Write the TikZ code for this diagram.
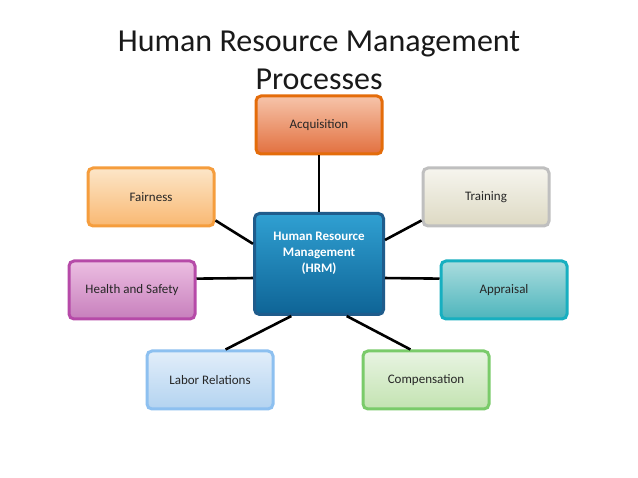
\documentclass[tikz,border=0pt]{standalone}
\usepackage{fontspec}
\setmainfont{Carlito}
\begin{document}
\begin{tikzpicture}[x=1pt,y=-1pt,
  box/.style={rounded corners=5pt,line width=3pt,minimum width=126pt,minimum height=58pt,font=\fontsize{13}{15}\selectfont,text=black!85,align=center},
  conn/.style={line width=2.6pt,black}]
\useasboundingbox (0,0) rectangle (638,478);
\fill[white] (0,0) rectangle (638,478);
\node[font=\fontsize{32}{38}\selectfont,align=center,text=black!90] (title) at (319,60) {Human Resource Management\\Processes};
\node[box,draw={rgb,255:red,228;green,108;blue,10},top color={rgb,255:red,246;green,196;blue,170},bottom color={rgb,255:red,226;green,112;blue,63}] (acq) at (319,125) {Acquisition};
\node[box,draw={rgb,255:red,191;green,191;blue,191},top color={rgb,255:red,246;green,245;blue,238},bottom color={rgb,255:red,221;green,217;blue,195}] (tra) at (486,197) {Training};
\node[box,draw={rgb,255:red,245;green,157;blue,61},top color={rgb,255:red,252;green,230;blue,200},bottom color={rgb,255:red,249;green,184;blue,114}] (fai) at (151,197) {Fairness};
\node[box,draw={rgb,255:red,31;green,92;blue,140},top color={rgb,255:red,48;green,160;blue,210},bottom color={rgb,255:red,14;green,100;blue,150},minimum width=129pt,minimum height=101pt,text=white,font=\bfseries\fontsize{13}{16}\selectfont] (hrm) at (319,264) {Human Resource\\Management\\(HRM)\\[8pt]};
\node[box,draw={rgb,255:red,182;green,74;blue,168},top color={rgb,255:red,236;green,190;blue,226},bottom color={rgb,255:red,199;green,127;blue,188}] (hea) at (132,290) {Health and Safety};
\node[box,draw={rgb,255:red,23;green,175;blue,192},top color={rgb,255:red,170;green,220;blue,222},bottom color={rgb,255:red,77;green,181;blue,188}] (app) at (504,290) {Appraisal};
\node[box,draw={rgb,255:red,141;green,192;blue,240},top color={rgb,255:red,226;green,238;blue,250},bottom color={rgb,255:red,179;green,211;blue,240}] (lab) at (210,380) {Labor Relations};
\node[box,draw={rgb,255:red,122;green,203;blue,106},top color={rgb,255:red,232;green,244;blue,226},bottom color={rgb,255:red,195;green,227;blue,177}] (com) at (426,380) {Compensation};
\begin{scope}[on background layer/.try]
\end{scope}
\draw[conn] (acq.south) -- (hrm.north);
\draw[conn] (fai.-20) -- (hrm.163);
\draw[conn] (tra.200) -- (hrm.20);
\draw[conn] (hea.10) -- (hrm.192);
\draw[conn] (app.170) -- (hrm.-12);
\draw[conn] (lab.63) -- (hrm.-118);
\draw[conn] (com.117) -- (hrm.-62);
\end{tikzpicture}
\end{document}
